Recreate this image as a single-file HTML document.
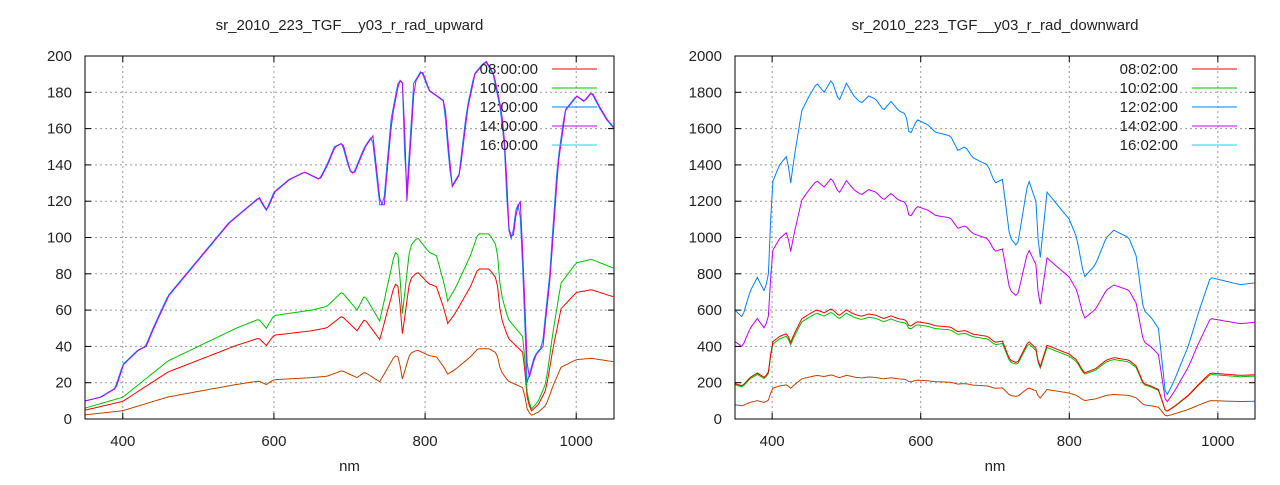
<!DOCTYPE html><html><head><style>body{margin:0;background:#fff}svg text{font-family:"Liberation Sans",sans-serif;font-size:15px;fill:#222}</style></head><body>
<svg id="s" width="1280" height="480" xmlns="http://www.w3.org/2000/svg"></svg>
<script>
const S=document.getElementById('s');let h='';
function interp(pts,x){if(x<=pts[0][0])return pts[0][1];for(let i=0;i<pts.length-1;i++){if(x>=pts[i][0]&&x<=pts[i+1][0]){const t=(x-pts[i][0])/(pts[i+1][0]-pts[i][0]);return pts[i][1]+t*(pts[i+1][1]-pts[i][1]);}}return pts[pts.length-1][1];}
function plot(o){const{x0,x1,y0,y1,ymax,ystep,title,tx}=o;const X=v=>x0+(v-350)/700*(x1-x0),Y=v=>y1-v/ymax*(y1-y0);
h+=`<text x="${(x0+x1)/2}" y="30" text-anchor="middle">${title}</text>`;
for(let v=400;v<=1000;v+=200){h+=`<line x1="${X(v)}" x2="${X(v)}" y1="${y0}" y2="${y1}" stroke="#999" stroke-dasharray="2,3"/><line x1="${X(v)}" x2="${X(v)}" y1="${y1}" y2="${y1-6}" stroke="#000"/><line x1="${X(v)}" x2="${X(v)}" y1="${y0}" y2="${y0+6}" stroke="#000"/><text x="${X(v)}" y="446" text-anchor="middle">${v}</text>`;}
for(let v=0;v<=ymax;v+=ystep){const y=Y(v);if(v>0&&v<ymax)h+=`<line x1="${x0}" x2="${x1}" y1="${y}" y2="${y}" stroke="#999" stroke-dasharray="2,3"/>`;h+=`<line x1="${x0}" x2="${x0+6}" y1="${y}" y2="${y}" stroke="#000"/><line x1="${x1}" x2="${x1-6}" y1="${y}" y2="${y}" stroke="#000"/><text x="${x0-13}" y="${y+5}" text-anchor="end">${v}</text>`;}
h+=`<text x="${(x0+x1)/2}" y="471" text-anchor="middle">nm</text>`;
o.series.forEach(s=>{let d='';for(let v=350;v<=1050;v+=3){const val=interp(s.pts,v+(s.dx||0))*s.k;d+=(d?'L':'M')+X(v).toFixed(1)+','+Y(val).toFixed(1);}h+=`<path d="${d}" fill="none" stroke="${s.c}" stroke-width="1"/>`;});
o.leg.forEach((l,i)=>{const y=69+i*19;h+=`<text x="${tx}" y="${y+5}" text-anchor="end">${l[0]}</text><line x1="${tx+14}" x2="${tx+59}" y1="${y}" y2="${y}" stroke="${l[1]}"/>`;});
h+=`<rect x="${x0}" y="${y0}" width="${x1-x0}" height="${y1-y0}" fill="none" stroke="#000"/>`;}
const U=[[350,10],[370,12],[390,17],[400,30],[420,38],[430,40],[440,50],[460,68],[480,78],[500,88],[520,98],[540,108],[560,115],[580,122],[585,118],[590,115],[600,125],[620,132],[640,136],[660,132],[670,140],[680,150],[690,152],[700,137],[705,135],[720,150],[730,156],[740,118],[745,118],[755,165],[765,187],[770,185],[775,120],[785,185],[795,192],[805,181],[815,178],[825,175],[830,150],[835,128],[845,135],[855,170],[865,190],[875,195],[880,197],[890,190],[900,170],[905,150],[910,105],[915,98],[920,115],[925,120],[930,75],[935,20],[945,35],[955,40],[965,80],[975,140],[985,170],[1000,178],[1010,175],[1020,180],[1030,172],[1040,165],[1050,160]];
const G=[[350,6],[400,12],[430,22],[460,32],[500,40],[550,50],[580,55],[590,50],[600,57],[650,60],[670,62],[690,70],[700,65],[710,60],[720,68],[740,54],[760,92],[765,90],[770,58],[780,95],[790,100],[805,92],[815,90],[825,75],[830,65],[840,72],[860,90],[870,102],[885,102],[895,95],[900,70],[910,55],[920,50],[930,45],[935,15],[940,5],[950,10],[960,20],[970,50],[980,75],[1000,86],[1020,88],[1050,83]];
const D=[[350,600],[360,560],[370,700],[380,780],[390,700],[395,800],[400,1300],[410,1400],[420,1450],[425,1300],[430,1450],[440,1700],[450,1780],[460,1850],[470,1800],[480,1870],[490,1750],[500,1850],[510,1780],[520,1740],[530,1780],[540,1760],[550,1700],[560,1750],[570,1700],[580,1680],[585,1560],[595,1650],[610,1620],[620,1580],[640,1560],[650,1480],[660,1500],[670,1440],[690,1400],[700,1300],[710,1320],[720,1000],[730,950],[745,1320],[755,1200],[760,850],[770,1250],[790,1150],[800,1100],[810,1000],[820,780],[835,850],[850,1000],[860,1040],[870,1020],[880,1000],[890,900],[900,600],[910,560],[920,500],[930,120],[940,200],[950,300],[960,400],[975,600],[990,780],[1010,760],[1030,740],[1050,750]];
plot({x0:85,x1:614,y0:56,y1:419,ymax:200,ystep:20,title:"sr_2010_223_TGF__y03_r_rad_upward",tx:538,
series:[{pts:G,k:0.38,c:"#c04000"},{pts:G,k:0.81,c:"#ff0000"},{pts:G,k:1,c:"#00c000"},{pts:U,k:1,c:"#0080ff"},{pts:U,k:1,c:"#c000ff",dx:-1}],
leg:[["08:00:00","#ff0000"],["10:00:00","#00c000"],["12:00:00","#0080ff"],["14:00:00","#c000ff"],["16:00:00","#00e0e0"]]});
plot({x0:735,x1:1255,y0:56,y1:419,ymax:2000,ystep:200,title:"sr_2010_223_TGF__y03_r_rad_downward",tx:1178,
series:[{pts:D,k:0.13,c:"#c04000"},{pts:D,k:0.315,c:"#00c000"},{pts:D,k:0.325,c:"#ff0000"},{pts:D,k:0.71,c:"#c000ff"},{pts:D,k:1,c:"#0080ff"}],
leg:[["08:02:00","#ff0000"],["10:02:00","#00c000"],["12:02:00","#0080ff"],["14:02:00","#c000ff"],["16:02:00","#00e0e0"]]});
S.innerHTML=h;
</script></body></html>
